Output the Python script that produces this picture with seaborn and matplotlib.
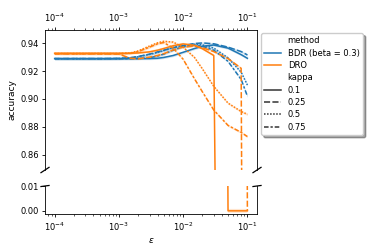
import numpy as np
import pandas as pd
import matplotlib
matplotlib.use("Agg")
import matplotlib.pyplot as plt
import seaborn as sns

# ---------------- data ----------------
eps = [1e-4, 2e-4, 5e-4, 1e-3, 1.5e-3, 2e-3, 3e-3, 4e-3, 5e-3, 7e-3,
       1e-2, 1.5e-2, 2e-2, 3e-2, 5e-2, 8e-2, 1e-1]

methods = ["BDR (beta = 0.3)", "DRO"]
kappas = ["0.1", "0.25", "0.5", "0.75"]

bdr_k01 = [0.929, 0.929, 0.929, 0.929, 0.929, 0.929, 0.929, 0.9292, 0.9298, 0.9312,
           0.9335, 0.9362, 0.9378, 0.9387, 0.9365, 0.9318, 0.9292]
bdr_k025 = [0.9290, 0.9290, 0.9290, 0.9291, 0.9296, 0.9305, 0.9322, 0.9338, 0.9350, 0.9368,
            0.9383, 0.9398, 0.9402, 0.9396, 0.9372, 0.9340, 0.9316]
bdr_k05 = [0.9289, 0.9289, 0.9289, 0.9290, 0.9295, 0.9303, 0.9320, 0.9334, 0.9348, 0.9370,
           0.9386, 0.9392, 0.9388, 0.9365, 0.9295, 0.9192, 0.9100]
bdr_k075 = [0.9289, 0.9289, 0.9289, 0.9289, 0.9289, 0.9290, 0.9296, 0.9308, 0.9322, 0.9350,
            0.9375, 0.9386, 0.9378, 0.9350, 0.9270, 0.9140, 0.9020]

dro_k01 = [0.9328, 0.9328, 0.9328, 0.9328, 0.9328, 0.9330, 0.9338, 0.9350, 0.9362, 0.9382,
           0.9395, 0.9385, 0.9360, 0.9312, 0.0, 0.0, 0.0]
dro_k025 = [0.9324, 0.9324, 0.9324, 0.9322, 0.9292, 0.9288, 0.9300, 0.9312, 0.9325, 0.9352,
            0.9372, 0.9380, 0.9368, 0.9340, 0.9290, 0.9220, 0.0]
dro_k05 = [0.9326, 0.9326, 0.9326, 0.9326, 0.9330, 0.9345, 0.9380, 0.9403, 0.9414, 0.9408,
           0.9372, 0.9298, 0.9215, 0.9090, 0.8970, 0.8910, 0.8890]
dro_k075 = [0.9325, 0.9325, 0.9325, 0.9325, 0.9328, 0.9340, 0.9372, 0.9396, 0.9405, 0.9365,
            0.9285, 0.9145, 0.9050, 0.8920, 0.8810, 0.8760, 0.8730]

series = {
    ("BDR (beta = 0.3)", "0.1"): bdr_k01,
    ("BDR (beta = 0.3)", "0.25"): bdr_k025,
    ("BDR (beta = 0.3)", "0.5"): bdr_k05,
    ("BDR (beta = 0.3)", "0.75"): bdr_k075,
    ("DRO", "0.1"): dro_k01,
    ("DRO", "0.25"): dro_k025,
    ("DRO", "0.5"): dro_k05,
    ("DRO", "0.75"): dro_k075,
}

# half width of the confidence band around each line
ci_half = 0.0008

rows = []
for (m, k), vals in series.items():
    for e, v in zip(eps, vals):
        rows.append({"eps": e, "accuracy": v, "method": m, "kappa": k})
df = pd.DataFrame(rows)

# ---------------- plot ----------------
plt.rcParams.update({
    "font.size": 6, "axes.labelsize": 6.5, "xtick.labelsize": 6,
    "ytick.labelsize": 6, "legend.fontsize": 6,
    "axes.linewidth": 0.6,
    "xtick.major.size": 2.2, "ytick.major.size": 2.2,
    "xtick.minor.size": 1.3, "ytick.minor.size": 1.3,
    "xtick.major.width": 0.6, "ytick.major.width": 0.6,
    "xtick.minor.width": 0.45, "ytick.minor.width": 0.45,
    "xtick.major.pad": 2.2, "ytick.major.pad": 2.2,
    "xtick.minor.pad": 2.2, "ytick.minor.pad": 2.2,
    "axes.labelpad": 2.5,
})
palette = {"BDR (beta = 0.3)": "#1f77b4", "DRO": "#ff7f0e"}

fig = plt.figure(figsize=(3.68, 2.45), dpi=100)
ax_top = fig.add_axes([0.1223, 0.3061, 0.5761, 0.5715])
ax_bot = fig.add_axes([0.1223, 0.1265, 0.5761, 0.1143], sharex=ax_top)

for ax in (ax_top, ax_bot):
    for (m, k), vals in series.items():
        lo = [v - ci_half for v in vals]
        hi = [v + ci_half for v in vals]
        ax.fill_between(eps, lo, hi, color=palette[m], alpha=0.2, lw=0)
    sns.lineplot(data=df, x="eps", y="accuracy", hue="method", style="kappa",
                 hue_order=methods, style_order=kappas, palette=palette,
                 errorbar=None, lw=1.1, ax=ax, legend=(ax is ax_top))
    ax.set_xscale("log")

ax_top.set_ylim(0.849, 0.9495)
ax_top.set_yticks([0.86, 0.88, 0.90, 0.92, 0.94])
ax_top.set_yticklabels(["0.86", "0.88", "0.90", "0.92", "0.94"])
ax_bot.set_ylim(-0.0013, 0.0102)
ax_bot.set_yticks([0.0, 0.01])
ax_bot.set_yticklabels(["0.00", "0.01"])

ax_top.spines["bottom"].set_visible(False)
ax_bot.spines["top"].set_visible(False)
ax_top.xaxis.tick_top()
ax_top.tick_params(axis="x", which="both", labeltop=True, labelbottom=False)
ax_bot.xaxis.tick_bottom()
ax_top.set_xlabel("")
ax_bot.set_xlabel(r"$\varepsilon$")
ax_top.set_ylabel("accuracy")
ax_bot.set_ylabel("")

# break marks
d = 0.019
kw = dict(color="k", clip_on=False, lw=0.9)
ax_top.plot((-d, +d), (-d, +d), transform=ax_top.transAxes, **kw)
ax_top.plot((1 - d, 1 + d), (-d, +d), transform=ax_top.transAxes, **kw)
ax_bot.plot((-d, +d), (1 - d, 1 + d), transform=ax_bot.transAxes, **kw)
ax_bot.plot((1 - d, 1 + d), (1 - d, 1 + d), transform=ax_bot.transAxes, **kw)

sns.move_legend(ax_top, "upper left", bbox_to_anchor=(1.019, 0.979), shadow=True,
                fontsize=6, title=None, frameon=True, borderaxespad=0,
                labelspacing=0.4)

fig.savefig("out.png", dpi=100)
